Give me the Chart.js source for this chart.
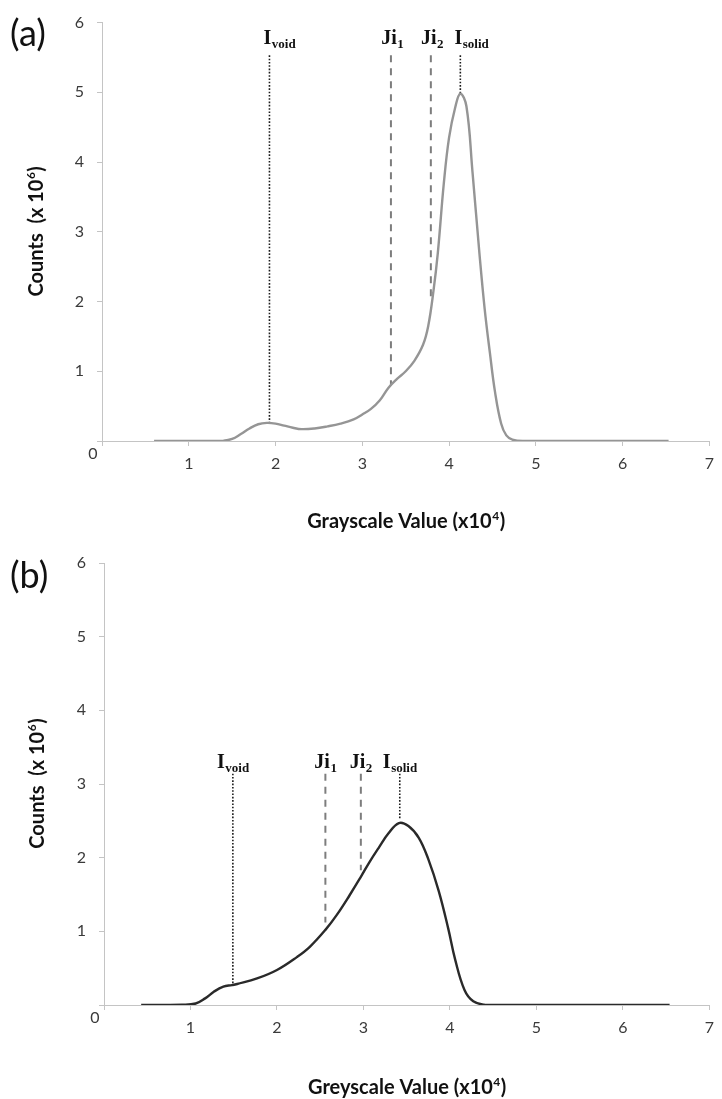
<!DOCTYPE html>
<html><head><meta charset="utf-8">
<script src="https://cdn.jsdelivr.net/npm/chart.js@4/dist/chart.umd.min.js"></script>
<style>
html,body{margin:0;padding:0;background:#fff;}
#wrap{position:relative;width:722px;height:1099px;overflow:hidden;}
.box{position:absolute;left:0;width:722px;}
</style></head><body>
<div id="wrap">
<div class="box" style="top:0;height:540px"><canvas id="ca"></canvas></div>
<div class="box" style="top:540px;height:559px"><canvas id="cb"></canvas></div>
</div>
<script>
// ---- data ----
const xTickValues = [0,1,2,3,4,5,6,7];
const yTickValues = [0,1,2,3,4,5,6];

// panel (a): grayscale (x10^4) vs counts (x10^6)
const aX = [0.6,1.2,1.4,1.5,1.6,1.7,1.8,1.9,2.0,2.1,2.2,2.3,2.45,2.6,2.75,2.9,3.0,3.1,3.2,3.3,3.4,3.5,3.6,3.7,3.76,3.82,3.87,3.94,4.0,4.07,4.13,4.2,4.27,4.35,4.41,4.47,4.53,4.6,4.66,4.73,4.85,6.53];
const aY = [0,0,0.005,0.03,0.1,0.18,0.24,0.26,0.25,0.22,0.19,0.17,0.18,0.21,0.25,0.31,0.38,0.46,0.58,0.76,0.89,1.0,1.15,1.38,1.65,2.15,2.69,3.7,4.35,4.78,4.98,4.8,3.86,2.69,1.9,1.27,0.7,0.25,0.08,0.02,0,0];

// panel (b)
const bX = [0.43,0.9,1.06,1.17,1.27,1.38,1.48,1.54,1.77,2.0,2.23,2.38,2.56,2.69,2.84,2.97,3.07,3.18,3.29,3.41,3.52,3.64,3.75,3.87,3.98,4.06,4.17,4.27,4.4,4.55,6.54];
const bY = [0,0.005,0.02,0.09,0.18,0.25,0.27,0.285,0.36,0.475,0.65,0.79,1.02,1.22,1.49,1.74,1.94,2.14,2.33,2.47,2.43,2.27,1.98,1.55,1.04,0.62,0.2,0.05,0.005,0,0];

// threshold markers
const markerMain = ['I','Ji','Ji','I'];
const markerSub  = ['void','1','2','solid'];
const aMarkerX = [1.93,3.33,3.79,4.13];
const aMarkerBottom = [0.26,0.8,2.05,4.98];
const aMarkerTop = 5.53;
const bMarkerX = [1.49,2.56,2.97,3.42];
const bMarkerBottom = [0.28,1.12,1.83,2.53];
const bMarkerTop = 3.14;

const panelLabels = ['(a)','(b)'];
const xTitles = [['Grayscale Value (x10','4',')'], ['Greyscale Value (x10','4',')']];
const yTitle = ['Counts  (x 10','6',')'];

// ---- drawing helpers ----
function drawSup(ctx, parts, x0, y0, size, centered){
  const big = 'bold '+size+'px Lato';
  const small = 'bold '+Math.round(size*0.62)+'px Lato';
  ctx.font = big; const w1 = ctx.measureText(parts[0]).width; const w3 = ctx.measureText(parts[2]).width;
  ctx.font = small; const w2 = ctx.measureText(parts[1]).width;
  let x = centered ? x0 - (w1+w2+w3)/2 : x0;
  ctx.textAlign='left'; ctx.textBaseline='alphabetic';
  ctx.font = big; ctx.fillText(parts[0], x, y0); x += w1;
  ctx.font = small; ctx.fillText(parts[1], x+0.5, y0 - size*0.4); x += w2+1;
  ctx.font = big; ctx.fillText(parts[2], x, y0);
}

function annotPlugin(cfg){
  return {
    id: 'annot',
    afterDraw(chart){
      const {ctx, chartArea:ca, scales:{x, y}} = chart;
      ctx.save();
      // panel letter
      ctx.fillStyle = '#111'; ctx.font = '36px Lato'; ctx.textAlign='left'; ctx.textBaseline='middle';
      ctx.fillText(cfg.panel, 10, cfg.panelY);
      // origin "0"
      ctx.fillStyle = '#3a3a3a'; ctx.font = '16px Lato'; ctx.textAlign='center'; ctx.textBaseline='middle';
      ctx.fillText('0', x.getPixelForValue(0)-9, y.getPixelForValue(0)+13);
      // axis titles
      ctx.fillStyle = '#111';
      drawSup(ctx, cfg.xTitle, (ca.left+ca.right)/2, cfg.xTitleBase, 20, true);
      ctx.save();
      ctx.translate(cfg.yTitleBase, (ca.top+ca.bottom)/2);
      ctx.rotate(-Math.PI/2);
      drawSup(ctx, yTitle, 0, 0, 20, true);
      ctx.restore();
      // marker labels
      ctx.fillStyle = '#111';
      cfg.mx.forEach((mx,i)=>{
        const px = x.getPixelForValue(mx);
        const py = y.getPixelForValue(cfg.mTop) - cfg.labelGap;
        const f1 = 'bold 20px "Liberation Serif"', f2 = 'bold 13px "Liberation Serif"';
        ctx.font = f1; const w1 = ctx.measureText(markerMain[i]).width;
        ctx.font = f2; const w2 = ctx.measureText(markerSub[i]).width;
        let lx = cfg.alignMain ? px - w1/2 - 2 : px - (w1+w2)/2;
        ctx.textAlign='left'; ctx.textBaseline='alphabetic';
        ctx.font = f1; ctx.fillText(markerMain[i], lx, py);
        ctx.font = f2; ctx.fillText(markerSub[i], lx+w1+0.5, py+4);
      });
      ctx.restore();
    }
  };
}

function makeChart(id, cfg){
  const series = cfg.xs.map((v,i)=>({x:v, y:cfg.ys[i]}));
  const markerSets = cfg.mx.map((mx,i)=>{
    const dotted = markerMain[i]==='I';
    return {
      data:[{x:mx, y:cfg.mTop},{x:mx, y:cfg.mBottom[i]}],
      borderColor: dotted ? '#1a1a1a' : '#7d7d7d',
      borderWidth: dotted ? 1.6 : 2,
      borderDash: dotted ? [1.6,1.7] : [7,6],
      pointRadius:0, tension:0, fill:false
    };
  });
  const tickFont = {family:'Lato', size:16};
  new Chart(document.getElementById(id), {
    type:'line',
    data:{datasets:[
      {data:series, borderColor:cfg.color, borderWidth:2.4, pointRadius:0, tension:0.4, fill:false},
      ...markerSets
    ]},
    options:{
      responsive:true, maintainAspectRatio:false, animation:false,
      layout:{padding:{top:cfg.padTop, right:3, left:0, bottom:0}},
      plugins:{legend:{display:false}, tooltip:{enabled:false}},
      scales:{
        x:{type:'linear', min:xTickValues[0], max:xTickValues[xTickValues.length-1],
          afterBuildTicks:s=>{ s.ticks = xTickValues.map(v=>({value:v})); },
          ticks:{autoSkip:false, maxRotation:0, padding:8, color:'#3a3a3a', font:tickFont,
            callback:v=> v===0 ? '' : String(v)},
          grid:{drawOnChartArea:false, tickLength:5, color:'#c4c4c4'},
          border:{color:'#c4c4c4'},
          afterFit:s=>{ s.height = cfg.xH; }
        },
        y:{type:'linear', min:yTickValues[0], max:yTickValues[yTickValues.length-1],
          afterBuildTicks:s=>{ s.ticks = yTickValues.map(v=>({value:v})); },
          ticks:{padding:13, color:'#3a3a3a', font:tickFont,
            callback:v=> v===0 ? '' : String(v)},
          grid:{drawOnChartArea:false, tickLength:5, color:'#c4c4c4'},
          border:{color:'#c4c4c4'},
          afterFit:s=>{ s.width = cfg.yW; }
        }
      }
    },
    plugins:[annotPlugin(cfg)]
  });
}

makeChart('ca', {xs:aX, ys:aY, color:'#959595', mx:aMarkerX, mBottom:aMarkerBottom, mTop:aMarkerTop,
  panel:panelLabels[0], panelY:34, xTitle:xTitles[0], xTitleBase:528, yTitleBase:43,
  padTop:15, xH:99, yW:102, labelGap:11, alignMain:true});
makeChart('cb', {xs:bX, ys:bY, color:'#2a2a2a', mx:bMarkerX, mBottom:bMarkerBottom, mTop:bMarkerTop,
  panel:panelLabels[1], panelY:36, xTitle:xTitles[1], xTitleBase:554, yTitleBase:44,
  padTop:23, xH:94, yW:104, labelGap:6, alignMain:false});
</script>
</body></html>
